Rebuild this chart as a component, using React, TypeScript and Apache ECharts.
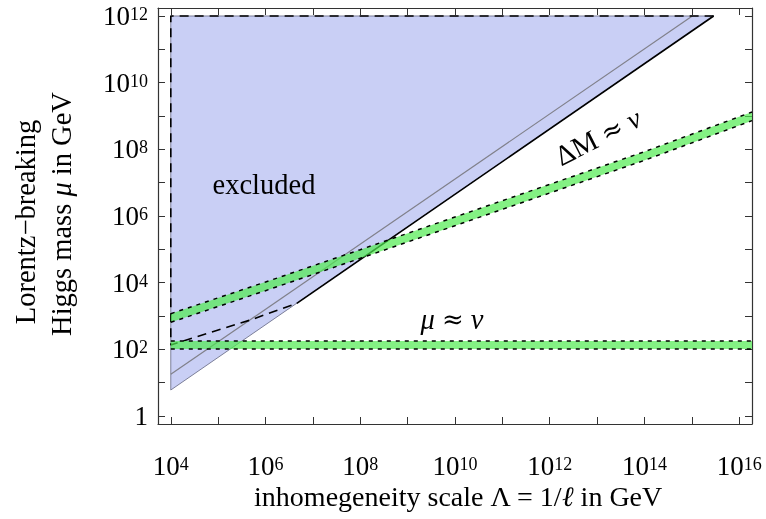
import React, { useEffect, useRef } from 'react';
import * as echarts from 'echarts';

// All values are log10 exponents: x = log10(Λ / GeV), y = log10(μ / GeV)
const X_MIN = 3.73;
const X_MAX = 16.27;
const Y_MIN = -0.24;
const Y_MAX = 12.24;
const xTickExponents = [4, 5, 6, 7, 8, 9, 10, 11, 12, 13, 14, 15, 16];
const xLabelExponents = [4, 6, 8, 10, 12, 14, 16];
const yTickExponents = [0, 1, 2, 3, 4, 5, 6, 7, 8, 9, 10, 11, 12];
const yLabelExponents = [0, 2, 4, 6, 8, 10, 12];

// excluded region
const excludedX = [4, 15.46, 4];
const excludedY = [12, 12, 0.78];

// solid boundary
const boundarySolidX = [6.66, 15.46];
const boundarySolidY = [3.38, 12];

// dashed boundary
const boundaryDashedX = [15.46, 4, 4, 4.55, 5.68, 6.66];
const boundaryDashedY = [12, 12, 2.13, 2.38, 2.88, 3.38];

// thin grey line
const greyLineX = [4, 15.01];
const greyLineY = [1.25, 12];

// μ ≈ v band
const muBandX = [4, 16.27];
const muBandLow = [2.01, 2.01];
const muBandHigh = [2.25, 2.25];

// ΔM ≈ v band
const dmBandX = [4, 6, 8, 10, 12, 14, 16.27];
const dmBandLow = [2.81, 3.76, 4.73, 5.71, 6.69, 7.67, 8.86];
const dmBandHigh = [3.07, 4.02, 4.99, 5.97, 6.95, 7.93, 9.12];

const SERIF = '"Liberation Serif", "DejaVu Serif", serif';
const SYM = '"DejaVu Serif", serif';

const zip = (xs: number[], ys: number[]) => xs.map((x, i) => [x, ys[i]]);

const tickRich = {
  b: { fontFamily: SERIF, fontSize: 27, color: '#000', lineHeight: 22 },
  s: { fontFamily: SERIF, fontSize: 18, color: '#000', verticalAlign: 'top', lineHeight: 14 },
};

const textRich = {
  r: { fontFamily: SERIF, fontSize: 28.5, fill: '#000', lineHeight: 24 },
  i: { fontFamily: SERIF, fontSize: 28.5, fontStyle: 'italic', fill: '#000', lineHeight: 24 },
  a: { fontFamily: SYM, fontSize: 26, fill: '#000', lineHeight: 24 },
};

const titleRich = {
  r: { fontFamily: SERIF, fontSize: 28, fill: '#000', lineHeight: 22 },
  i: { fontFamily: SERIF, fontSize: 28, fontStyle: 'italic', fill: '#000', lineHeight: 22 },
};

function polygonSeries(points: () => number[][], style: any, z: number) {
  return {
    type: 'custom',
    coordinateSystem: 'cartesian2d',
    silent: true,
    z,
    data: [points()[0]],
    renderItem: (_params: any, api: any) => {
      const pts = points().map((p) => api.coord(p));
      return { type: 'polygon', shape: { points: pts }, style };
    },
  };
}

function lineSeries(data: number[][], lineStyle: any, z: number) {
  return {
    type: 'line',
    data,
    showSymbol: false,
    symbol: 'none',
    silent: true,
    z,
    lineStyle,
  };
}

export default function App() {
  const ref = useRef<HTMLDivElement>(null);

  useEffect(() => {
    if (!ref.current) return;
    const chart = echarts.init(ref.current, undefined, { renderer: 'svg' });

    const axisCommon = {
      type: 'value',
      splitLine: { show: false },
      axisLine: { show: true, onZero: false, lineStyle: { color: '#333', width: 1.2 } },
    };

    const bandPoly = (xs: number[], lo: number[], hi: number[]) => () =>
      [...zip(xs, hi), ...zip(xs, lo).reverse()];

    chart.setOption({
      animation: false,
      grid: { left: 158, right: 14, top: 8, bottom: 95, containLabel: false },
      xAxis: [
        {
          ...axisCommon,
          min: X_MIN,
          max: X_MAX,
          position: 'bottom',
          axisTick: { show: true, inside: true, length: 7, customValues: xTickExponents, lineStyle: { color: '#333' } },
          axisLabel: {
            customValues: xLabelExponents,
            margin: 31,
            formatter: (v: number) => `{b|10}{s|${v}}`,
            rich: tickRich,
          },
        },
        {
          ...axisCommon,
          min: X_MIN,
          max: X_MAX,
          position: 'top',
          axisTick: { show: true, inside: true, length: 7, customValues: xTickExponents, lineStyle: { color: '#333' } },
          axisLabel: { show: false },
        },
      ],
      yAxis: [
        {
          ...axisCommon,
          min: Y_MIN,
          max: Y_MAX,
          position: 'left',
          axisTick: { show: true, inside: true, length: 7, customValues: yTickExponents, lineStyle: { color: '#333' } },
          axisLabel: {
            customValues: yLabelExponents,
            margin: 10,
            formatter: (v: number) => (v === 0 ? '{b|1}' : `{b|10}{s|${v}}`),
            rich: tickRich,
          },
        },
        {
          ...axisCommon,
          min: Y_MIN,
          max: Y_MAX,
          position: 'right',
          axisTick: { show: true, inside: true, length: 7, customValues: yTickExponents, lineStyle: { color: '#333' } },
          axisLabel: { show: false },
        },
      ],
      series: [
        polygonSeries(() => zip(excludedX, excludedY), { fill: '#c9cff5', stroke: '#7c7f99', lineWidth: 1 }, 1),
        lineSeries(zip(greyLineX, greyLineY), { color: '#80808a', width: 1.2 }, 2),
        lineSeries(zip(boundarySolidX, boundarySolidY), { color: '#000', width: 1.6 }, 3),
        lineSeries(zip(boundaryDashedX, boundaryDashedY), { color: '#000', width: 1.6, type: [9, 6] }, 3),
        polygonSeries(bandPoly(muBandX, muBandLow, muBandHigh), { fill: 'rgba(80,235,80,0.7)' }, 4),
        polygonSeries(bandPoly(dmBandX, dmBandLow, dmBandHigh), { fill: 'rgba(80,235,80,0.7)' }, 4),
        lineSeries(zip(muBandX, muBandLow), { color: '#000', width: 1.5, type: [4, 5] }, 5),
        lineSeries(zip(muBandX, muBandHigh), { color: '#000', width: 1.5, type: [4, 5] }, 5),
        lineSeries(zip(dmBandX, dmBandLow), { color: '#000', width: 1.5, type: [4, 5] }, 5),
        lineSeries(zip(dmBandX, dmBandHigh), { color: '#000', width: 1.5, type: [4, 5] }, 5),
      ],
      graphic: [
        {
          type: 'text',
          x: 264,
          y: 184,
          z: 10,
          style: { text: 'excluded', fontFamily: SERIF, fontSize: 28.5, fill: '#000', align: 'center', verticalAlign: 'middle' },
        },
        {
          type: 'text',
          x: 598,
          y: 137,
          rotation: 0.47,
          z: 10,
          style: {
            text: '{r|ΔM }{a|≈}{r| }{i|ν}',
            align: 'center',
            verticalAlign: 'middle',
            rich: textRich,
          },
        },
        {
          type: 'text',
          x: 452,
          y: 319,
          z: 10,
          style: {
            text: '{i|μ}{r| }{a|≈}{r| }{i|ν}',
            align: 'center',
            verticalAlign: 'middle',
            rich: textRich,
          },
        },
        {
          type: 'text',
          x: 458,
          y: 496,
          z: 10,
          style: {
            text: '{r|inhomegeneity scale Λ = 1/}{i|ℓ}{r| in GeV}',
            align: 'center',
            verticalAlign: 'middle',
            rich: titleRich,
          },
        },
        {
          type: 'text',
          x: 25,
          y: 222,
          rotation: Math.PI / 2,
          z: 10,
          style: {
            text: '{r|Lorentz−breaking}',
            align: 'center',
            verticalAlign: 'middle',
            rich: textRich,
          },
        },
        {
          type: 'text',
          x: 61,
          y: 214,
          rotation: Math.PI / 2,
          z: 10,
          style: {
            text: '{r|Higgs mass }{i|μ}{r| in GeV}',
            align: 'center',
            verticalAlign: 'middle',
            rich: textRich,
          },
        },
      ],
    });

    return () => chart.dispose();
  }, []);

  return <div ref={ref} style={{ position: 'fixed', left: 0, top: 0, width: 766, height: 519 }} />;
}
